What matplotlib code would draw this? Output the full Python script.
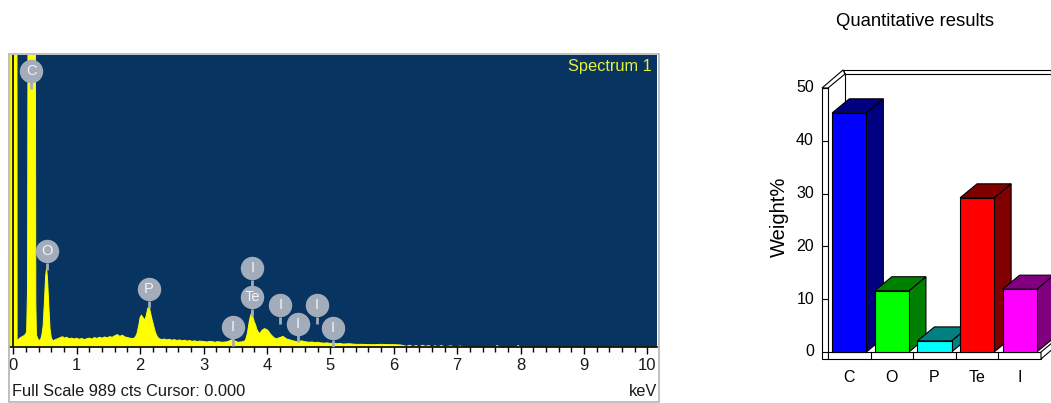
import matplotlib.pyplot as plt
from matplotlib.patches import Polygon, Rectangle
from matplotlib.ticker import MultipleLocator

plt.rcParams['font.family'] = ['Liberation Sans', 'DejaVu Sans']

# EDS spectrum, energy in keV and counts per channel
energy = [-0.05, -0.045, 0.055, 0.06, 0.10, 0.14, 0.18, 0.21, 0.225, 0.235,
          0.29, 0.345, 0.355, 0.365, 0.40, 0.43, 0.45, 0.47, 0.49, 0.51,
          0.525, 0.54, 0.56, 0.58, 0.60, 0.63, 0.66, 0.70, 0.74, 0.78,
          0.80, 0.84, 0.88, 0.92, 0.96, 1.00, 1.04, 1.08, 1.12, 1.16,
          1.20, 1.24, 1.28, 1.32, 1.36, 1.40, 1.44, 1.48, 1.52, 1.56,
          1.60, 1.64, 1.68, 1.72, 1.76, 1.80, 1.84, 1.88, 1.92, 1.95,
          1.98, 2.00, 2.02, 2.05, 2.08, 2.10, 2.12, 2.14, 2.16, 2.18,
          2.21, 2.24, 2.27, 2.30, 2.34, 2.38, 2.42, 2.46, 2.50, 2.54,
          2.58, 2.62, 2.66, 2.70, 2.74, 2.78, 2.82, 2.86, 2.90, 2.94,
          2.98, 3.02, 3.06, 3.10, 3.14, 3.18, 3.22, 3.26, 3.30, 3.34,
          3.38, 3.42, 3.46, 3.50, 3.54, 3.58, 3.62, 3.66, 3.69, 3.72,
          3.74, 3.76, 3.78, 3.80, 3.82, 3.84, 3.86, 3.88, 3.90, 3.93,
          3.96, 3.99, 4.02, 4.05, 4.08, 4.11, 4.14, 4.18, 4.22, 4.25,
          4.28, 4.31, 4.35, 4.39, 4.43, 4.47, 4.51, 4.55, 4.59, 4.63,
          4.67, 4.71, 4.75, 4.80, 4.85, 4.90, 4.95, 5.00, 5.05, 5.10,
          5.15, 5.20, 5.30, 5.40, 5.50, 5.60, 5.70, 5.80, 5.90, 6.00,
          6.10, 6.15, 6.20, 6.25, 6.30, 6.35, 6.40, 6.45, 6.50, 6.55,
          6.60, 6.65, 6.70, 6.75, 6.80, 6.90, 6.95, 7.05, 7.10, 7.60,
          7.63, 7.66, 7.93, 7.96, 7.99, 10.2]
counts = [0, 3000, 3000, 20, 30, 35, 40, 50, 200, 1500,
          5000, 1500, 150, 40, 22, 25, 40, 70, 150, 240,
          267, 230, 140, 60, 30, 20, 25, 28, 32, 35,
          30, 33, 28, 30, 27, 30, 26, 29, 25, 28,
          30, 27, 32, 29, 33, 30, 34, 31, 35, 33,
          38, 42, 36, 40, 34, 32, 30, 28, 32, 45,
          75, 100, 108, 98, 92, 110, 130, 137, 120, 100,
          75, 50, 35, 28, 25, 27, 24, 26, 23, 25,
          22, 24, 21, 23, 20, 22, 19, 21, 18, 20,
          19, 18, 17, 19, 18, 16, 18, 17, 16, 17,
          18, 22, 26, 20, 16, 17, 18, 22, 45, 85,
          105, 117, 100, 85, 75, 60, 52, 45, 50, 58,
          62, 60, 55, 45, 38, 32, 28, 30, 33, 36,
          32, 27, 25, 22, 20, 18, 19, 21, 18, 17,
          16, 17, 15, 16, 14, 13, 14, 12, 13, 11,
          12, 10, 11, 9, 9, 8, 8, 9, 8, 8,
          7, 5, 2, 6, 1, 5, 0, 6, 2, 5,
          0, 4, 0, 5, 0, 4, 0, 3, 0, 0,
          5, 0, 0, 5, 0, 0]
full_scale = 989

# identified lines: label, line energy (keV), label height (counts)
line_labels = ['C', 'O', 'P', 'Te', 'I', 'I', 'I', 'I', 'I', 'I']
line_energy = [0.28, 0.53, 2.14, 3.77, 3.77, 3.46, 4.21, 4.49, 4.79, 5.04]
label_height = [935, 324, 196, 169, 267, 67, 142, 78, 142, 64]

# quantification
elements = ['C', 'O', 'P', 'Te', 'I']
weight_pct = [45.3, 11.6, 2.1, 29.2, 11.9]
front_colors = ['#0000ff', '#00ff00', '#00ffff', '#ff0000', '#ff00ff']
shade_colors = ['#000080', '#008000', '#008080', '#800000', '#800080']

W, H = 1051, 403
fig = plt.figure(figsize=(W / 100, H / 100), dpi=100)


def box(x0, y0, x1, y1):
    # pixel box measured from the top-left corner -> figure rect
    return [x0 / W, 1 - y1 / H, (x1 - x0) / W, (y1 - y0) / H]


# ---- spectrum panel ----
fig.add_artist(Rectangle((9 / W, 1 - 402 / H), 650 / W, 348 / H,
                         transform=fig.transFigure, fill=False,
                         ec='#b4b4b4', lw=1.2))
ax = fig.add_axes(box(10, 55, 657, 347))
ax.set_facecolor('#083462')
ax.fill_between(energy, counts, color='#ffff00', lw=0)
ax.plot(energy, counts, color='#ffff00', lw=0.7)
ax.axvline(0, color='black', lw=1.2)
ax.set_xlim(-0.052, 10.15)
ax.set_ylim(0, full_scale)
for s in ['top', 'left', 'right']:
    ax.spines[s].set_visible(False)
ax.spines['bottom'].set_linewidth(1.2)
ax.set_yticks([])
ax.set_xticks(range(11))
ax.xaxis.set_minor_locator(MultipleLocator(0.2))
ax.tick_params(axis='x', which='major', direction='out', length=5, width=1,
               labelsize=12, pad=3, labelcolor='#1a1a1a')
ax.tick_params(axis='x', which='minor', direction='out', length=3.3, width=1)

cnt_per_px = full_scale / ax.get_window_extent().height
r = 11.5 * cnt_per_px
for lab, e, h in zip(line_labels, line_energy, label_height):
    ax.plot([e, e], [h - r, h - r - 7 * cnt_per_px], color='#a2acba', lw=2,
            solid_capstyle='butt', zorder=3)
    ax.scatter(e, h, s=285, color='#a2acba', lw=0, zorder=4)
    ax.text(e, h, lab, ha='center', va='center', color='#f4f4f4',
            fontsize=10.5, zorder=5)

ax.text(0.992, 0.959, 'Spectrum 1', transform=ax.transAxes, ha='right',
        va='center', color='#e8f03a', fontsize=11.8)
fig.text(12 / W, 1 - 392 / H, f'Full Scale {full_scale} cts Cursor: 0.000',
         ha='left', va='center', fontsize=11.8, color='#1a1a1a')
fig.text(657 / W, 1 - 392 / H, 'keV', ha='right', va='center',
         fontsize=11.8, color='#1a1a1a')

# ---- 3D bar panel ----
ax2 = fig.add_axes(box(828, 88, 1041, 352))
n = len(elements)
top = 50
ax2.set_xlim(-0.5, n - 0.5)
ax2.set_ylim(0, top)
ax2.axis('off')
ext = ax2.get_window_extent()
ux, uy = n / ext.width, top / ext.height
dx1, dy1 = 17 * ux, 14 * uy      # depth of the plotting box
dx2, dy2 = 21 * ux, 18 * uy      # outer depth of the walls
tw, tf = 6 * ux, 7 * uy          # wall / floor thickness
x0, x1 = -0.5, n - 0.5
edge = dict(ec='black', lw=0.8, clip_on=False)

# back wall top and inner corner
ax2.add_patch(Polygon([(x0 + dx1, top + dy1), (x1 + 1, top + dy1),
                       (x1 + 1, top + dy2), (x0 - tw + dx2, top + dy2)],
                      fc='white', zorder=1, **edge))
ax2.plot([x0 + dx1, x0 + dx1], [dy1, top + dy1], color='black', lw=0.8,
         clip_on=False, zorder=1)
# left wall
ax2.add_patch(Polygon([(x0 - tw, top), (x0, top), (x0 + dx1, top + dy1),
                       (x0 - tw + dx2, top + dy2)], fc='white', zorder=2, **edge))
ax2.add_patch(Rectangle((x0 - tw, -tf), tw, top + tf, fc='white', zorder=2,
                        **edge))
# floor
ax2.add_patch(Polygon([(x0, 0), (x1, 0), (x1 + dx1, dy1), (x0 + dx1, dy1)],
                      fc='white', ec='none', zorder=1, clip_on=False))
ax2.add_patch(Rectangle((x0, -tf), x1 - x0, tf, fc='white', zorder=2, **edge))
ax2.add_patch(Polygon([(x1, -tf), (x1 + dx2, -tf + dy2), (x1 + dx1, dy1),
                       (x1, 0)], fc='white', zorder=2, **edge))
for k in range(1, n):
    ax2.plot([k - 0.5, k - 0.5], [-tf, 0], color='black', lw=0.8,
             clip_on=False, zorder=2)

for v in range(0, top + 1, 10):
    ax2.plot([x0 - tw, x0], [v, v], color='black', lw=0.8, clip_on=False,
             zorder=3)
    ax2.text(x0 - tw - 8 * ux, v, str(v), ha='right', va='center',
             fontsize=11.5)

bw = 0.8
for i, (v, fc, sc) in enumerate(zip(weight_pct, front_colors, shade_colors)):
    z = 5 + i
    l, rr = i - bw / 2, i + bw / 2
    ax2.add_patch(Polygon([(rr, 0), (rr + dx1, dy1), (rr + dx1, v + dy1),
                           (rr, v)], fc=sc, zorder=z, **edge))
    ax2.add_patch(Polygon([(l, v), (rr, v), (rr + dx1, v + dy1),
                           (l + dx1, v + dy1)], fc=sc, zorder=z, **edge))
    ax2.add_patch(Rectangle((l, 0), bw, v, fc=fc, zorder=z, **edge))
    ax2.text(i, -26 * uy, elements[i], ha='center', va='center',
             fontsize=11.5)

ax2.text(x0 - 49 * ux, top / 2 + 0.6, 'Weight%', rotation=90, ha='center',
         va='center', fontsize=14.5)
fig.text(915 / W, 1 - 22 / H, 'Quantitative results', ha='center',
         va='center', fontsize=13.3)

fig.savefig('out.png', dpi=100)
